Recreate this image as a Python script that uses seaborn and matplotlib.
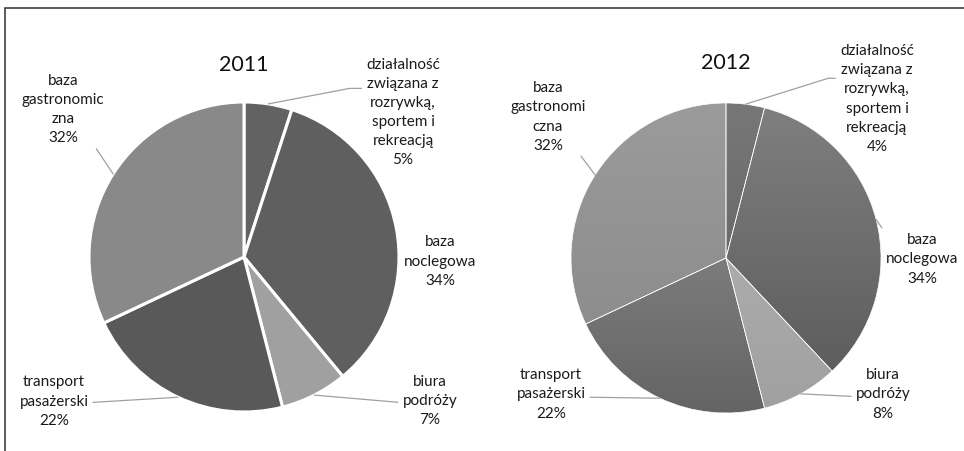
import numpy as np
import matplotlib
matplotlib.use("Agg")
import matplotlib.pyplot as plt
from matplotlib.patches import Rectangle
from matplotlib.colors import LinearSegmentedColormap
import seaborn as sns

# data
years = ["2011", "2012"]
labels_2011 = ["działalność\nzwiązana z\nrozrywką,\nsportem i\nrekreacją",
               "baza\nnoclegowa", "biura\npodróży", "transport\npasażerski",
               "baza\ngastronomic\nzna"]
labels_2012 = ["działalność\nzwiązana z\nrozrywką,\nsportem i\nrekreacją",
               "baza\nnoclegowa", "biura\npodróży", "transport\npasażerski",
               "baza\ngastronomi\nczna"]
share_2011 = [5, 34, 7, 22, 32]
share_2012 = [4, 34, 8, 22, 32]

colors_2011 = ["#626262", "#5f5f5f", "#a0a0a0", "#595959", "#898989"]
# 2012 slices have a vertical gradient: top colour -> bottom colour
top_2012 = ["#777777", "#7f7f7f", "#acacac", "#7c7c7c", "#9b9b9b"]
bot_2012 = ["#6a6a6a", "#5d5d5d", "#a0a0a0", "#646464", "#8d8d8d"]

# label placement (pie radius = 1), leader: (relpos, angleB) / angleB None -> straight
pos_2011 = [(1.026, 0.939), (1.265, -0.023), (1.2, -0.923), (-1.226, -0.926), (-1.168, 0.958)]
lead_2011 = [((0, 0.71), 10.8), None, ((0, 0.45), None), ((1, 0.46), None), ((0.72, 0.06), 123.7)]
pos_2012 = [(0.974, 1.032), (1.265, -0.003), (1.013, -0.874), (-1.129, -0.874), (-1.148, 0.916)]
lead_2012 = [((0, 0.68), 17.4), ((0.25, 0.74), -55.8), ((0, 0.44), None), ((1, 0.43), None), ((0.74, 0.07), 126.9)]

sns.set_theme(style="white")
plt.rcParams["font.family"] = ["Lato", "DejaVu Sans"]

fig = plt.figure(figsize=(9.64, 4.52), dpi=100)
W, H = 964, 452

def draw_pie(cx, cy, R, year, labels, shares, colors, pos, leads, edge_lw, title_y, grad=None):
    ax = fig.add_axes([(cx - R) / W, (H - cy - R) / H, 2 * R / W, 2 * R / H])
    wedges, _ = ax.pie(shares, colors=colors, startangle=90, counterclock=False,
                       radius=1, wedgeprops=dict(edgecolor="white", linewidth=edge_lw))
    if grad is not None:
        ramp = np.linspace(0, 1, 256).reshape(-1, 1)
        for w, c_top, c_bot in zip(wedges, *grad):
            x0, y0, x1, y1 = w.get_path().get_extents().extents
            cmap = LinearSegmentedColormap.from_list("g", [c_bot, c_top])
            im = ax.imshow(ramp, cmap=cmap, origin="lower", aspect="auto",
                           extent=[x0, x1, y0, y1], zorder=0.5)
            im.set_clip_path(w)
            w.set_facecolor("none")
    ax.set_xlim(-1, 1)
    ax.set_ylim(-1, 1)
    ax.set_aspect("equal")
    ax.axis("off")
    ax.text(0, title_y, year, ha="center", va="center", fontsize=15.5, color="#111111")
    for w, lab, v, (tx, ty), ld in zip(wedges, labels, shares, pos, leads):
        ang = np.deg2rad((w.theta1 + w.theta2) / 2)
        xy = (np.cos(ang), np.sin(ang))
        txt = f"{lab}\n{v}%"
        kw = dict(ha="center", va="center", multialignment="center",
                  fontsize=11, color="#1a1a1a", linespacing=1.47)
        if ld is None:
            ax.text(tx, ty, txt, **kw)
            continue
        relpos, angB = ld
        cs = "arc3" if angB is None else f"angle,angleA=0,angleB={angB},rad=0"
        ax.annotate(txt, xy=xy, xytext=(tx, ty), annotation_clip=False,
                    arrowprops=dict(arrowstyle="-", color="#a0a0a0", lw=0.9,
                                    shrinkA=1, shrinkB=0, relpos=relpos,
                                    connectionstyle=cs), **kw)
    return ax

draw_pie(244, 258, 155, years[0], labels_2011, share_2011, colors_2011,
         pos_2011, lead_2011, 2.2, 1.245)
draw_pie(726, 259, 155, years[1], labels_2012, share_2012, top_2012,
         pos_2012, lead_2012, 0.5, 1.265, grad=(top_2012, bot_2012))

# chart frame (only top and left edges visible)
fig.add_artist(Rectangle((5 / W, -0.05), 1.5, (H - 9) / H + 0.05,
                         transform=fig.transFigure, fill=False,
                         edgecolor="#404040", linewidth=1.2))

plt.savefig("out.png", dpi=100)
plt.close()
